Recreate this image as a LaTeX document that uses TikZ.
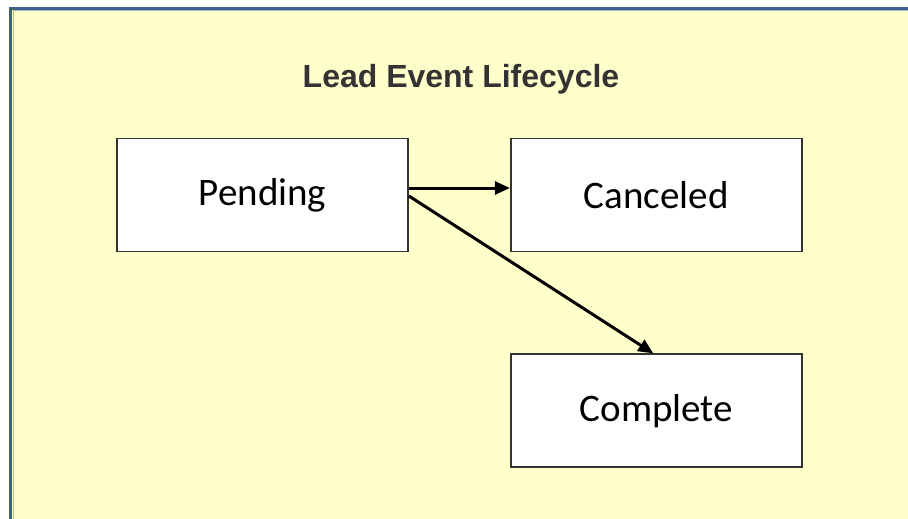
\documentclass[tikz,border=0pt]{standalone}
\usepackage{fontspec}
\setmainfont{Carlito}
\newfontfamily\titlefont{Liberation Sans}
\usetikzlibrary{arrows.meta, positioning}
\definecolor{paper}{HTML}{FFFFCC}
\definecolor{frame}{HTML}{3C5F8C}
\tikzset{
  >={Triangle[length=15pt, width=13pt]},
  every picture/.style={line cap=butt, line join=miter},
  state/.style={draw=black!80, line width=1.8pt, fill=white, minimum width=291pt,
    minimum height=113pt, inner sep=0pt, font=\fontsize{39}{42}\selectfont},
  trans/.style={->, line width=3pt},
}
\begin{document}
\begin{tikzpicture}[x=1pt, y=-1pt]
  \useasboundingbox (0,0) rectangle (908,519);
  % ---------------- background panel with frame on left and top
  \fill[paper] (10.5,8.5) rectangle (908,519);
  \draw[frame!45, line width=1pt] (13,519) -- (13,11) -- (908,11);
  \draw[frame, line width=3pt] (10.5,519) -- (10.5,8.5) -- (908,8.5);
  \node[font=\titlefont\bfseries\fontsize{32}{34}\selectfont, text=black!80] (title) at (461,79) {Lead Event Lifecycle};
  % ---------------- states
  \node[state] (pending) at (262.5,195) {Pending};
  \node[state, right=101pt of pending] (canceled) {Canceled};
  \node[state, below=101pt of canceled] (complete) {Complete};
  % ---------------- transitions
  \draw[trans] ([yshift=7pt]pending.east) -- ([yshift=7pt]canceled.west);
  \draw[trans] ([yshift=-1pt]pending.east) -- ([xshift=-3pt]complete.north);
\end{tikzpicture}
\end{document}
